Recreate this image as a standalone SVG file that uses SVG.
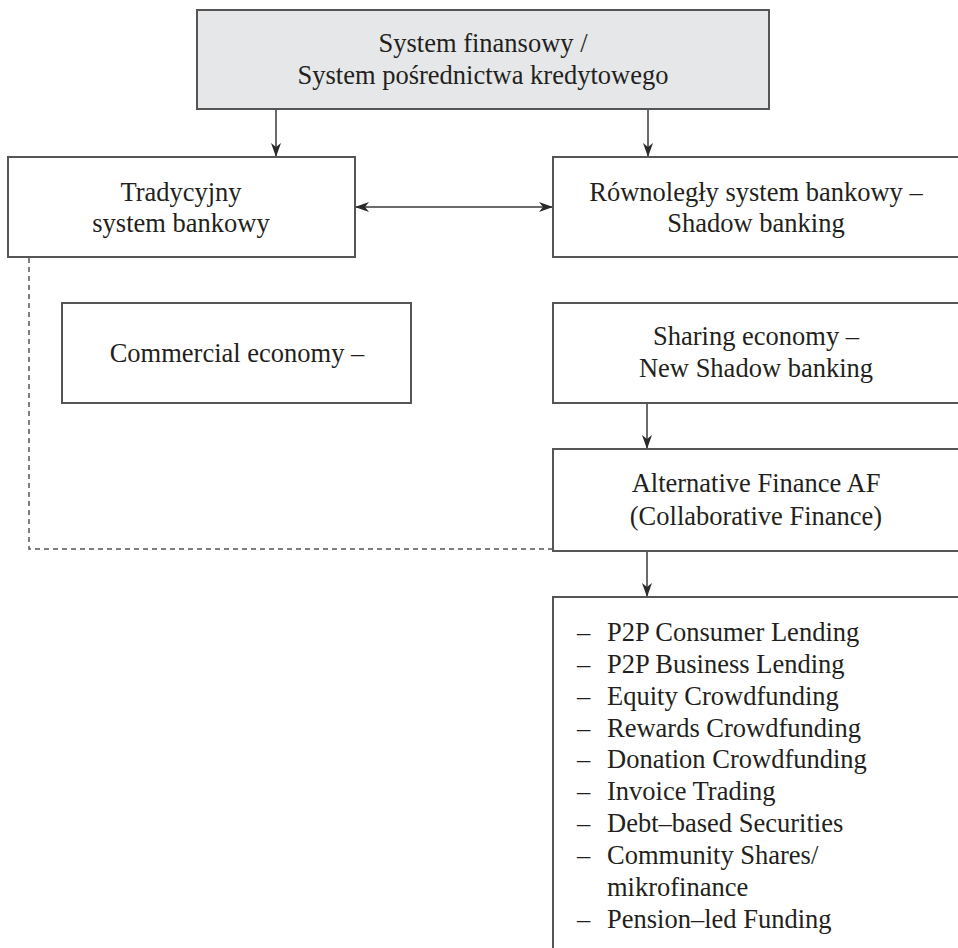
<svg xmlns="http://www.w3.org/2000/svg" width="958" height="948" viewBox="0 0 958 948">
  <style>
    .box { fill: #ffffff; stroke: #555555; stroke-width: 2; }
    .gray { fill: #e6e7e8; }
    .t { font-family: "Liberation Serif", "Times New Roman", serif; font-size: 26.5px; fill: #231f20; }
    .c { text-anchor: middle; }
    .ln { stroke: #3a3a3a; stroke-width: 1.5; fill: none; }
    .dash { stroke: #555555; stroke-width: 1.5; fill: none; stroke-dasharray: 5 4; }
  </style>
  <defs>
    <marker id="ah" viewBox="0 0 14 10" refX="13" refY="5" markerWidth="14" markerHeight="10" markerUnits="userSpaceOnUse" orient="auto-start-reverse">
      <path d="M0,0 L14,5 L0,10 L4,5 z" fill="#2a2a2a"/>
    </marker>
  </defs>
  <rect width="958" height="948" fill="#ffffff"/>

  <g id="connectors">
    <line class="ln" x1="276" y1="109" x2="276" y2="156" marker-end="url(#ah)"/>
    <line class="ln" x1="648" y1="109" x2="648" y2="156" marker-end="url(#ah)"/>
    <line class="ln" x1="356" y1="207" x2="552" y2="207" marker-start="url(#ah)" marker-end="url(#ah)"/>
    <line class="ln" x1="647" y1="403" x2="647" y2="448" marker-end="url(#ah)"/>
    <line class="ln" x1="647" y1="551" x2="647" y2="596" marker-end="url(#ah)"/>
    <path class="dash" d="M29,258 V549 H552"/>
  </g>

  <g id="top">
    <rect class="box gray" x="197" y="10" width="572" height="99"/>
    <text class="t c" x="483" y="52">System finansowy /</text>
    <text class="t c" x="483" y="84">System pośrednictwa kredytowego</text>
  </g>

  <g id="traditional">
    <rect class="box" x="8" y="157" width="347" height="100"/>
    <text class="t c" x="181" y="201">Tradycyjny</text>
    <text class="t c" x="181" y="232">system bankowy</text>
  </g>

  <g id="shadow">
    <rect class="box" x="553" y="157" width="410" height="100"/>
    <text class="t c" x="756" y="201">Równoległy system bankowy –</text>
    <text class="t c" x="756" y="232">Shadow banking</text>
  </g>

  <g id="commercial">
    <rect class="box" x="62" y="303" width="349" height="100"/>
    <text class="t c" x="237" y="362">Commercial economy –</text>
  </g>

  <g id="sharing">
    <rect class="box" x="553" y="303" width="410" height="100"/>
    <text class="t c" x="756" y="345">Sharing economy –</text>
    <text class="t c" x="756" y="377">New Shadow banking</text>
  </g>

  <g id="alternative">
    <rect class="box" x="553" y="449" width="410" height="102"/>
    <text class="t c" x="756" y="492">Alternative Finance AF</text>
    <text class="t c" x="756" y="525">(Collaborative Finance)</text>
  </g>

  <g id="list">
    <rect class="box" x="553" y="597" width="410" height="360"/>
    <text class="t" x="577" y="641">–</text><text class="t" x="607" y="641">P2P Consumer Lending</text>
    <text class="t" x="577" y="673">–</text><text class="t" x="607" y="673">P2P Business Lending</text>
    <text class="t" x="577" y="705">–</text><text class="t" x="607" y="705">Equity Crowdfunding</text>
    <text class="t" x="577" y="737">–</text><text class="t" x="607" y="737">Rewards Crowdfunding</text>
    <text class="t" x="577" y="768">–</text><text class="t" x="607" y="768">Donation Crowdfunding</text>
    <text class="t" x="577" y="800">–</text><text class="t" x="607" y="800">Invoice Trading</text>
    <text class="t" x="577" y="832">–</text><text class="t" x="607" y="832">Debt–based Securities</text>
    <text class="t" x="577" y="864">–</text><text class="t" x="607" y="864">Community Shares/</text>
    <text class="t" x="607" y="896">mikrofinance</text>
    <text class="t" x="577" y="928">–</text><text class="t" x="607" y="928">Pension–led Funding</text>
  </g>
</svg>
